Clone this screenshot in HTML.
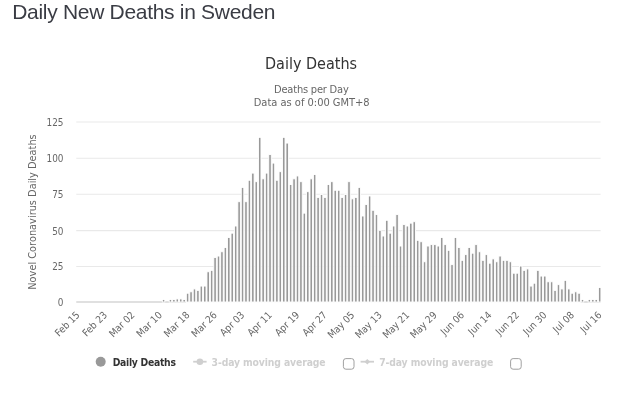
<!DOCTYPE html>
<html><head><meta charset="utf-8"><title>Daily New Deaths in Sweden</title>
<style>
html,body{margin:0;padding:0;background:#fff;}
body{width:621px;height:400px;overflow:hidden;position:relative;font-family:"Liberation Sans",Arial,sans-serif;}
h3{position:absolute;left:12.2px;top:1.1px;margin:0;font-weight:400;font-size:21px;line-height:1;color:#3a3c44;white-space:nowrap;letter-spacing:-0.3px}
svg{position:absolute;left:0;top:0;}
svg text{font-family:"DejaVu Sans Condensed","DejaVu Sans","Liberation Sans",sans-serif;}
</style></head><body>
<h3>Daily New Deaths in Sweden</h3>
<svg width="621" height="400" viewBox="0 0 621 400">

<path d="M76.25 122.00H600.6" stroke="#e9e9e9" stroke-width="1.1" fill="none"/>
<text x="63.5" y="126.00" text-anchor="end" font-size="9.9" fill="#666">125</text>
<path d="M76.25 158.30H600.6" stroke="#e9e9e9" stroke-width="1.1" fill="none"/>
<text x="63.5" y="162.30" text-anchor="end" font-size="9.9" fill="#666">100</text>
<path d="M76.25 194.20H600.6" stroke="#e9e9e9" stroke-width="1.1" fill="none"/>
<text x="63.5" y="198.20" text-anchor="end" font-size="9.9" fill="#666">75</text>
<path d="M76.25 230.60H600.6" stroke="#e9e9e9" stroke-width="1.1" fill="none"/>
<text x="63.5" y="234.60" text-anchor="end" font-size="9.9" fill="#666">50</text>
<path d="M76.25 266.45H600.6" stroke="#e9e9e9" stroke-width="1.1" fill="none"/>
<text x="63.5" y="270.45" text-anchor="end" font-size="9.9" fill="#666">25</text>
<text x="63.5" y="306.00" text-anchor="end" font-size="9.9" fill="#666">0</text>
<path d="M76.25 302.00H600.6" stroke="#d6d6d6" stroke-width="1.7" fill="none"/>
<rect x="185.90" y="300.95" width="394.87" height="2.10" fill="#fff" fill-opacity="0.85"/>
<g fill="#999999" stroke="#fff" stroke-width="0.9">
<rect x="162.32" y="299.50" width="2.50" height="2.50"/>
<rect x="169.18" y="299.50" width="2.50" height="2.50"/>
<rect x="172.62" y="299.50" width="2.50" height="2.50"/>
<rect x="176.05" y="298.94" width="2.50" height="3.06"/>
<rect x="179.49" y="298.94" width="2.50" height="3.06"/>
<rect x="182.92" y="299.50" width="2.50" height="2.50"/>
<rect x="186.35" y="293.22" width="2.50" height="8.78"/>
<rect x="189.79" y="291.79" width="2.50" height="10.21"/>
<rect x="193.22" y="288.93" width="2.50" height="13.07"/>
<rect x="196.66" y="290.36" width="2.50" height="11.64"/>
<rect x="200.09" y="286.07" width="2.50" height="15.93"/>
<rect x="203.52" y="286.07" width="2.50" height="15.93"/>
<rect x="206.96" y="271.77" width="2.50" height="30.23"/>
<rect x="210.39" y="270.34" width="2.50" height="31.66"/>
<rect x="213.83" y="257.47" width="2.50" height="44.53"/>
<rect x="217.26" y="256.04" width="2.50" height="45.96"/>
<rect x="220.69" y="251.75" width="2.50" height="50.25"/>
<rect x="224.13" y="247.46" width="2.50" height="54.54"/>
<rect x="227.56" y="237.45" width="2.50" height="64.55"/>
<rect x="231.00" y="233.16" width="2.50" height="68.84"/>
<rect x="234.43" y="226.01" width="2.50" height="75.99"/>
<rect x="237.86" y="201.70" width="2.50" height="100.30"/>
<rect x="241.30" y="187.40" width="2.50" height="114.60"/>
<rect x="244.73" y="201.70" width="2.50" height="100.30"/>
<rect x="248.17" y="180.25" width="2.50" height="121.75"/>
<rect x="251.60" y="173.10" width="2.50" height="128.90"/>
<rect x="255.03" y="181.68" width="2.50" height="120.32"/>
<rect x="258.47" y="137.35" width="2.50" height="164.65"/>
<rect x="261.90" y="178.82" width="2.50" height="123.18"/>
<rect x="265.34" y="173.10" width="2.50" height="128.90"/>
<rect x="268.77" y="154.51" width="2.50" height="147.49"/>
<rect x="272.20" y="163.09" width="2.50" height="138.91"/>
<rect x="275.64" y="180.25" width="2.50" height="121.75"/>
<rect x="279.07" y="171.67" width="2.50" height="130.33"/>
<rect x="282.51" y="137.35" width="2.50" height="164.65"/>
<rect x="285.94" y="143.07" width="2.50" height="158.93"/>
<rect x="289.37" y="184.54" width="2.50" height="117.46"/>
<rect x="292.81" y="178.82" width="2.50" height="123.18"/>
<rect x="296.24" y="175.96" width="2.50" height="126.04"/>
<rect x="299.68" y="181.68" width="2.50" height="120.32"/>
<rect x="303.11" y="213.14" width="2.50" height="88.86"/>
<rect x="306.54" y="191.69" width="2.50" height="110.31"/>
<rect x="309.98" y="178.82" width="2.50" height="123.18"/>
<rect x="313.41" y="174.53" width="2.50" height="127.47"/>
<rect x="316.85" y="197.41" width="2.50" height="104.59"/>
<rect x="320.28" y="194.55" width="2.50" height="107.45"/>
<rect x="323.71" y="197.41" width="2.50" height="104.59"/>
<rect x="327.15" y="184.54" width="2.50" height="117.46"/>
<rect x="330.58" y="181.68" width="2.50" height="120.32"/>
<rect x="334.02" y="190.26" width="2.50" height="111.74"/>
<rect x="337.45" y="190.26" width="2.50" height="111.74"/>
<rect x="340.88" y="197.41" width="2.50" height="104.59"/>
<rect x="344.32" y="194.55" width="2.50" height="107.45"/>
<rect x="347.75" y="181.68" width="2.50" height="120.32"/>
<rect x="351.19" y="198.84" width="2.50" height="103.16"/>
<rect x="354.62" y="197.41" width="2.50" height="104.59"/>
<rect x="358.05" y="187.40" width="2.50" height="114.60"/>
<rect x="361.49" y="216.00" width="2.50" height="86.00"/>
<rect x="364.92" y="204.56" width="2.50" height="97.44"/>
<rect x="368.36" y="195.98" width="2.50" height="106.02"/>
<rect x="371.79" y="210.28" width="2.50" height="91.72"/>
<rect x="375.22" y="214.57" width="2.50" height="87.43"/>
<rect x="378.66" y="230.30" width="2.50" height="71.70"/>
<rect x="382.09" y="236.02" width="2.50" height="65.98"/>
<rect x="385.53" y="220.29" width="2.50" height="81.71"/>
<rect x="388.96" y="233.16" width="2.50" height="68.84"/>
<rect x="392.39" y="226.01" width="2.50" height="75.99"/>
<rect x="395.83" y="214.57" width="2.50" height="87.43"/>
<rect x="399.26" y="246.03" width="2.50" height="55.97"/>
<rect x="402.70" y="224.58" width="2.50" height="77.42"/>
<rect x="406.13" y="226.01" width="2.50" height="75.99"/>
<rect x="409.56" y="223.15" width="2.50" height="78.85"/>
<rect x="413.00" y="221.72" width="2.50" height="80.28"/>
<rect x="416.43" y="240.31" width="2.50" height="61.69"/>
<rect x="419.87" y="241.74" width="2.50" height="60.26"/>
<rect x="423.30" y="261.76" width="2.50" height="40.24"/>
<rect x="426.73" y="246.03" width="2.50" height="55.97"/>
<rect x="430.17" y="244.60" width="2.50" height="57.40"/>
<rect x="433.60" y="244.60" width="2.50" height="57.40"/>
<rect x="437.04" y="246.03" width="2.50" height="55.97"/>
<rect x="440.47" y="237.45" width="2.50" height="64.55"/>
<rect x="443.90" y="244.60" width="2.50" height="57.40"/>
<rect x="447.34" y="250.32" width="2.50" height="51.68"/>
<rect x="450.77" y="264.62" width="2.50" height="37.38"/>
<rect x="454.21" y="237.45" width="2.50" height="64.55"/>
<rect x="457.64" y="247.46" width="2.50" height="54.54"/>
<rect x="461.07" y="260.33" width="2.50" height="41.67"/>
<rect x="464.51" y="254.61" width="2.50" height="47.39"/>
<rect x="467.94" y="247.46" width="2.50" height="54.54"/>
<rect x="471.38" y="253.18" width="2.50" height="48.82"/>
<rect x="474.81" y="244.60" width="2.50" height="57.40"/>
<rect x="478.24" y="251.75" width="2.50" height="50.25"/>
<rect x="481.68" y="260.33" width="2.50" height="41.67"/>
<rect x="485.11" y="254.61" width="2.50" height="47.39"/>
<rect x="488.55" y="263.19" width="2.50" height="38.81"/>
<rect x="491.98" y="258.90" width="2.50" height="43.10"/>
<rect x="495.41" y="261.76" width="2.50" height="40.24"/>
<rect x="498.85" y="256.04" width="2.50" height="45.96"/>
<rect x="502.28" y="260.33" width="2.50" height="41.67"/>
<rect x="505.72" y="260.33" width="2.50" height="41.67"/>
<rect x="509.15" y="261.76" width="2.50" height="40.24"/>
<rect x="512.58" y="273.20" width="2.50" height="28.80"/>
<rect x="516.02" y="273.20" width="2.50" height="28.80"/>
<rect x="519.45" y="266.05" width="2.50" height="35.95"/>
<rect x="522.89" y="270.34" width="2.50" height="31.66"/>
<rect x="526.32" y="268.91" width="2.50" height="33.09"/>
<rect x="529.75" y="286.07" width="2.50" height="15.93"/>
<rect x="533.19" y="283.21" width="2.50" height="18.79"/>
<rect x="536.62" y="270.34" width="2.50" height="31.66"/>
<rect x="540.06" y="276.06" width="2.50" height="25.94"/>
<rect x="543.49" y="276.06" width="2.50" height="25.94"/>
<rect x="546.92" y="281.78" width="2.50" height="20.22"/>
<rect x="550.36" y="281.78" width="2.50" height="20.22"/>
<rect x="553.79" y="290.36" width="2.50" height="11.64"/>
<rect x="557.23" y="284.64" width="2.50" height="17.36"/>
<rect x="560.66" y="288.93" width="2.50" height="13.07"/>
<rect x="564.09" y="280.35" width="2.50" height="21.65"/>
<rect x="567.53" y="288.93" width="2.50" height="13.07"/>
<rect x="570.96" y="293.22" width="2.50" height="8.78"/>
<rect x="574.40" y="291.79" width="2.50" height="10.21"/>
<rect x="577.83" y="293.22" width="2.50" height="8.78"/>
<rect x="581.26" y="299.50" width="2.50" height="2.50"/>
<rect x="588.13" y="299.50" width="2.50" height="2.50"/>
<rect x="591.57" y="299.50" width="2.50" height="2.50"/>
<rect x="595.00" y="299.50" width="2.50" height="2.50"/>
<rect x="598.43" y="287.50" width="2.50" height="14.50"/>
</g>
<g font-size="10" fill="#666" text-anchor="end">
<text x="80.32" y="315.60" transform="rotate(-45 80.32 315.60)">Feb 15</text>
<text x="107.79" y="315.60" transform="rotate(-45 107.79 315.60)">Feb 23</text>
<text x="135.26" y="315.60" transform="rotate(-45 135.26 315.60)">Mar 02</text>
<text x="162.73" y="315.60" transform="rotate(-45 162.73 315.60)">Mar 10</text>
<text x="190.20" y="315.60" transform="rotate(-45 190.20 315.60)">Mar 18</text>
<text x="217.68" y="315.60" transform="rotate(-45 217.68 315.60)">Mar 26</text>
<text x="245.15" y="315.60" transform="rotate(-45 245.15 315.60)">Apr 03</text>
<text x="272.62" y="315.60" transform="rotate(-45 272.62 315.60)">Apr 11</text>
<text x="300.09" y="315.60" transform="rotate(-45 300.09 315.60)">Apr 19</text>
<text x="327.56" y="315.60" transform="rotate(-45 327.56 315.60)">Apr 27</text>
<text x="355.04" y="315.60" transform="rotate(-45 355.04 315.60)">May 05</text>
<text x="382.51" y="315.60" transform="rotate(-45 382.51 315.60)">May 13</text>
<text x="409.98" y="315.60" transform="rotate(-45 409.98 315.60)">May 21</text>
<text x="437.45" y="315.60" transform="rotate(-45 437.45 315.60)">May 29</text>
<text x="464.92" y="315.60" transform="rotate(-45 464.92 315.60)">Jun 06</text>
<text x="492.40" y="315.60" transform="rotate(-45 492.40 315.60)">Jun 14</text>
<text x="519.87" y="315.60" transform="rotate(-45 519.87 315.60)">Jun 22</text>
<text x="547.34" y="315.60" transform="rotate(-45 547.34 315.60)">Jun 30</text>
<text x="574.81" y="315.60" transform="rotate(-45 574.81 315.60)">Jul 08</text>
<text x="602.28" y="315.60" transform="rotate(-45 602.28 315.60)">Jul 16</text>
</g>
<text x="311" y="69" text-anchor="middle" font-size="16" fill="#333">Daily Deaths</text>
<text x="311.4" y="93.2" text-anchor="middle" font-size="11" fill="#666" textLength="74.7" lengthAdjust="spacing">Deaths per Day</text>
<text x="311.7" y="105.9" text-anchor="middle" font-size="11" fill="#666" textLength="115.9" lengthAdjust="spacing">Data as of 0:00 GMT+8</text>
<text x="35.5" y="212" text-anchor="middle" font-size="10.9" fill="#666" transform="rotate(-90 35.5 212)">Novel Coronavirus Daily Deaths</text>
<circle cx="100.7" cy="361.7" r="5" fill="#999999"/>
<text x="112.7" y="366.3" font-size="10.3" font-weight="bold" fill="#333" textLength="63.2" lengthAdjust="spacing">Daily Deaths</text>
<path d="M193.2 361.7h13.4" stroke="#cfcfcf" stroke-width="1.8"/><circle cx="199.90" cy="361.7" r="3.3" fill="#cfcfcf"/>
<text x="211.6" y="366.3" font-size="10.3" font-weight="bold" fill="#cfcfcf" textLength="114" lengthAdjust="spacing">3-day moving average</text>
<rect x="343.4" y="358.6" width="10.6" height="10.6" rx="2.5" fill="#fff" stroke="#a0a0a0" stroke-width="1"/>
<path d="M360.6 361.7h13.4" stroke="#cfcfcf" stroke-width="1.8"/><path d="M367.3 358.9l2.8 2.8l-2.8 2.8l-2.8-2.8z" fill="#cfcfcf"/>
<text x="379.2" y="366.3" font-size="10.3" font-weight="bold" fill="#cfcfcf" textLength="114" lengthAdjust="spacing">7-day moving average</text>
<rect x="510.6" y="358.6" width="10.6" height="10.6" rx="2.5" fill="#fff" stroke="#a0a0a0" stroke-width="1"/>
</svg></body></html>
